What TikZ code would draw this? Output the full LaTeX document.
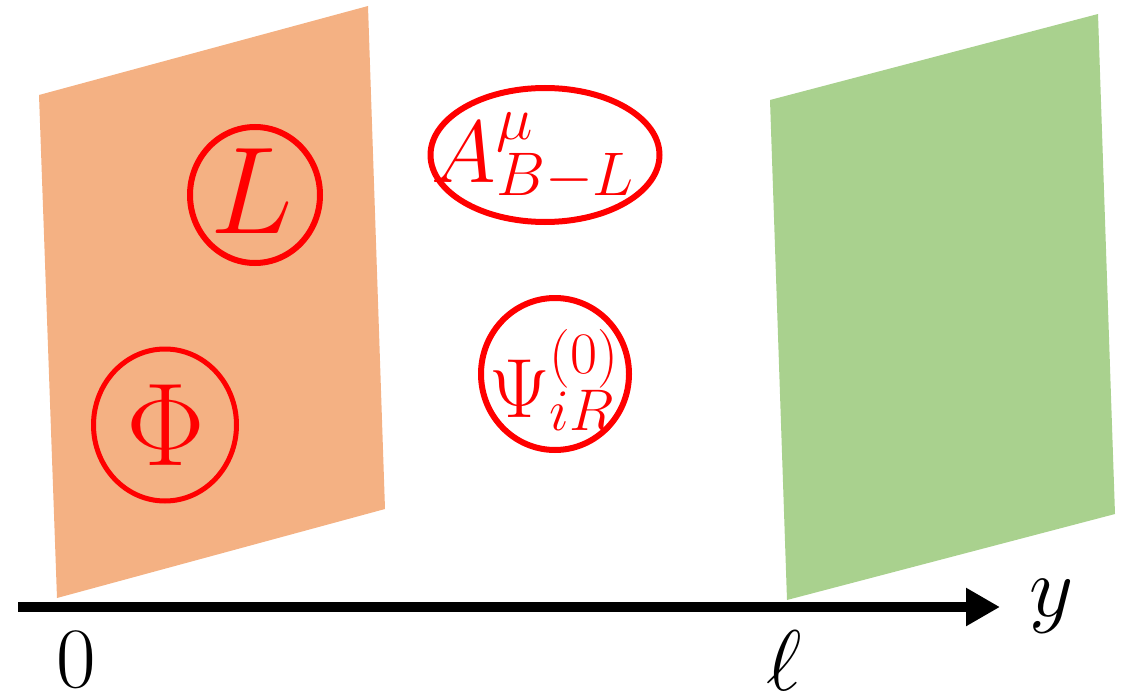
\RequirePackage{fix-cm}
\documentclass[tikz,border=0pt]{standalone}
\usetikzlibrary{arrows.meta,shapes.geometric}
\definecolor{brane0}{HTML}{F4B183}
\definecolor{braneL}{HTML}{A9D18E}
\definecolor{fieldred}{HTML}{FF0000}
\tikzset{
  fieldring/.style={draw=fieldred, line width=6pt, ellipse, inner sep=0pt},
  fieldtext/.style={text=fieldred, inner sep=0pt},
  axislabel/.style={inner sep=0pt, font=\fontsize{86}{94}\selectfont},
}
\begin{document}
\begin{tikzpicture}[x=1pt,y=-1pt]
\useasboundingbox (0,0) rectangle (1130,698);
% branes
\fill[brane0] (39,95) -- (368,6) -- (385,509) -- (57,598) -- cycle;
\fill[braneL] (770,100) -- (1098,14) -- (1115,514) -- (787,600) -- cycle;
% axis
\coordinate (ax0) at (18,607);
\coordinate (ax1) at (1000,607);
\draw[line width=10pt, -{Triangle[length=34pt,width=36pt]}] (ax0) -- (ax1);
\node[axislabel] (zero) at (76,660) {$0$};
\node[axislabel] (ell) at (784,661) {$\ell$};
\node[axislabel] (yl) at (1052,606) {$y$};
% fields
\node[fieldring, minimum width=130pt, minimum height=136pt] (Lring) at (255,195) {};
\node[fieldtext, font=\fontsize{124}{130}\selectfont] (Ltxt) at (252,191) {$L$};
\node[fieldring, line width=5pt, minimum width=143pt, minimum height=152pt] (Phiring) at (165,425) {};
\node[fieldtext, font=\fontsize{118}{124}\selectfont] (Phitxt) at (166,425) {$\Phi$};
\node[fieldring, minimum width=229pt, minimum height=134pt] (Aring) at (545,155) {};
\node[fieldtext, font=\fontsize{88}{94}\selectfont] (Atxt) at (533,157) {$A^{\mu}_{B-L}$};
\node[fieldring, minimum width=148pt, minimum height=152pt] (Psiring) at (555,374) {};
\node[fieldtext, font=\fontsize{84}{90}\selectfont] (Psitxt) at (554,380) {$\Psi^{(0)}_{iR}$};
\end{tikzpicture}
\end{document}
